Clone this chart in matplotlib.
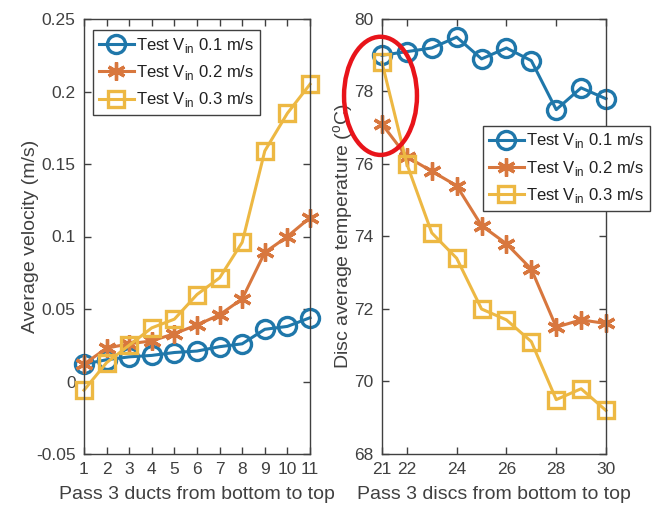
import matplotlib
matplotlib.use('Agg')
import matplotlib.pyplot as plt
from matplotlib.patches import Ellipse

plt.rcParams['font.family'] = ['Liberation Sans', 'DejaVu Sans']
plt.rcParams['mathtext.fontset'] = 'custom'
plt.rcParams['mathtext.rm'] = 'Liberation Sans'

# left panel: ducts
ducts = [1, 2, 3, 4, 5, 6, 7, 8, 9, 10, 11]
vel_01 = [0.012, 0.015, 0.017, 0.018, 0.020, 0.021, 0.024, 0.026, 0.036, 0.038, 0.044]
vel_02 = [0.012, 0.023, 0.026, 0.028, 0.033, 0.039, 0.046, 0.057, 0.089, 0.100, 0.113]
vel_03 = [-0.006, 0.013, 0.025, 0.037, 0.043, 0.060, 0.0715, 0.096, 0.159, 0.185, 0.205]

# right panel: discs
discs = [21, 22, 23, 24, 25, 26, 27, 28, 29, 30]
temp_01 = [79.0, 79.1, 79.2, 79.5, 78.9, 79.2, 78.85, 77.5, 78.1, 77.8]
temp_02 = [77.1, 76.2, 75.8, 75.4, 74.3, 73.8, 73.1, 71.5, 71.7, 71.6]
temp_03 = [78.8, 76.0, 74.1, 73.4, 72.0, 71.7, 71.1, 69.5, 69.8, 69.2]

labels = ['Test V$_{\\mathrm{in}}$ 0.1 m/s', 'Test V$_{\\mathrm{in}}$ 0.2 m/s',
          'Test V$_{\\mathrm{in}}$ 0.3 m/s']
colors = ['#1f77aa', '#d8773e', '#edb843']
markers = ['o', (6, 2, 0), 's']
msizes = [13, 13, 11]
grey = '#404040'

fig = plt.figure(figsize=(6.52, 5.05), dpi=100)
W, H = 652, 505
ax1 = fig.add_axes([84 / W, (H - 454) / H, 226 / W, 435 / H])
ax2 = fig.add_axes([382 / W, (H - 454) / H, 224 / W, 435 / H])


def style(ax):
    ax.tick_params(direction='in', top=True, right=True, labelsize=12.5,
                   colors=grey, length=5, width=1, pad=6)
    for s in ax.spines.values():
        s.set_color(grey)
        s.set_linewidth(1)


def legend(ax, anchor):
    leg = ax.legend(loc='upper left', bbox_to_anchor=anchor, fontsize=12,
                    fancybox=False, edgecolor=grey, framealpha=1, borderpad=0.35,
                    handlelength=2.1, handletextpad=0.15, labelspacing=0.5,
                    borderaxespad=0)
    leg.get_frame().set_linewidth(1)
    for t in leg.get_texts():
        t.set_color('#202020')
    return leg


for ys, c, m, ms, lab in zip([vel_01, vel_02, vel_03], colors, markers, msizes, labels):
    ax1.plot(ducts, ys, color=c, marker=m, markersize=ms, markerfacecolor='none',
             markeredgewidth=2.4, linewidth=2.2, label=lab, clip_on=False)
ax1.set_xlim(1, 11)
ax1.set_ylim(-0.05, 0.25)
ax1.set_xticks(ducts)
ax1.set_yticks([-0.05, 0, 0.05, 0.1, 0.15, 0.2, 0.25])
ax1.set_yticklabels(['-0.05', '0', '0.05', '0.1', '0.15', '0.2', '0.25'])
ax1.set_xlabel('Pass 3 ducts from bottom to top', fontsize=14, color=grey, labelpad=6)
ax1.set_ylabel('Average velocity (m/s)', fontsize=14, color=grey, labelpad=-2)
style(ax1)
legend(ax1, (0.04, 0.975))

for ys, c, m, ms, lab in zip([temp_01, temp_02, temp_03], colors, markers, msizes, labels):
    ax2.plot(discs, ys, color=c, marker=m, markersize=ms, markerfacecolor='none',
             markeredgewidth=2.4, linewidth=2.2, label=lab, clip_on=False)
ax2.set_xlim(21, 30)
ax2.set_ylim(68, 80)
ax2.set_xticks([21, 22, 24, 26, 28, 30])
ax2.set_yticks([68, 70, 72, 74, 76, 78, 80])
ax2.set_xlabel('Pass 3 discs from bottom to top', fontsize=14, color=grey, labelpad=6)
ax2.set_ylabel('Disc average temperature ($^{\\mathrm{o}}$C)', fontsize=14, color=grey,
               labelpad=-1)
style(ax2)
legend(ax2, (0.45, 0.755))

ell = Ellipse((20.94, 77.88), 2.93, 3.26, fill=False, edgecolor='#e8141a',
              linewidth=3.2, clip_on=False, zorder=5)
ax2.add_patch(ell)

fig.savefig('out.png', dpi=100)
